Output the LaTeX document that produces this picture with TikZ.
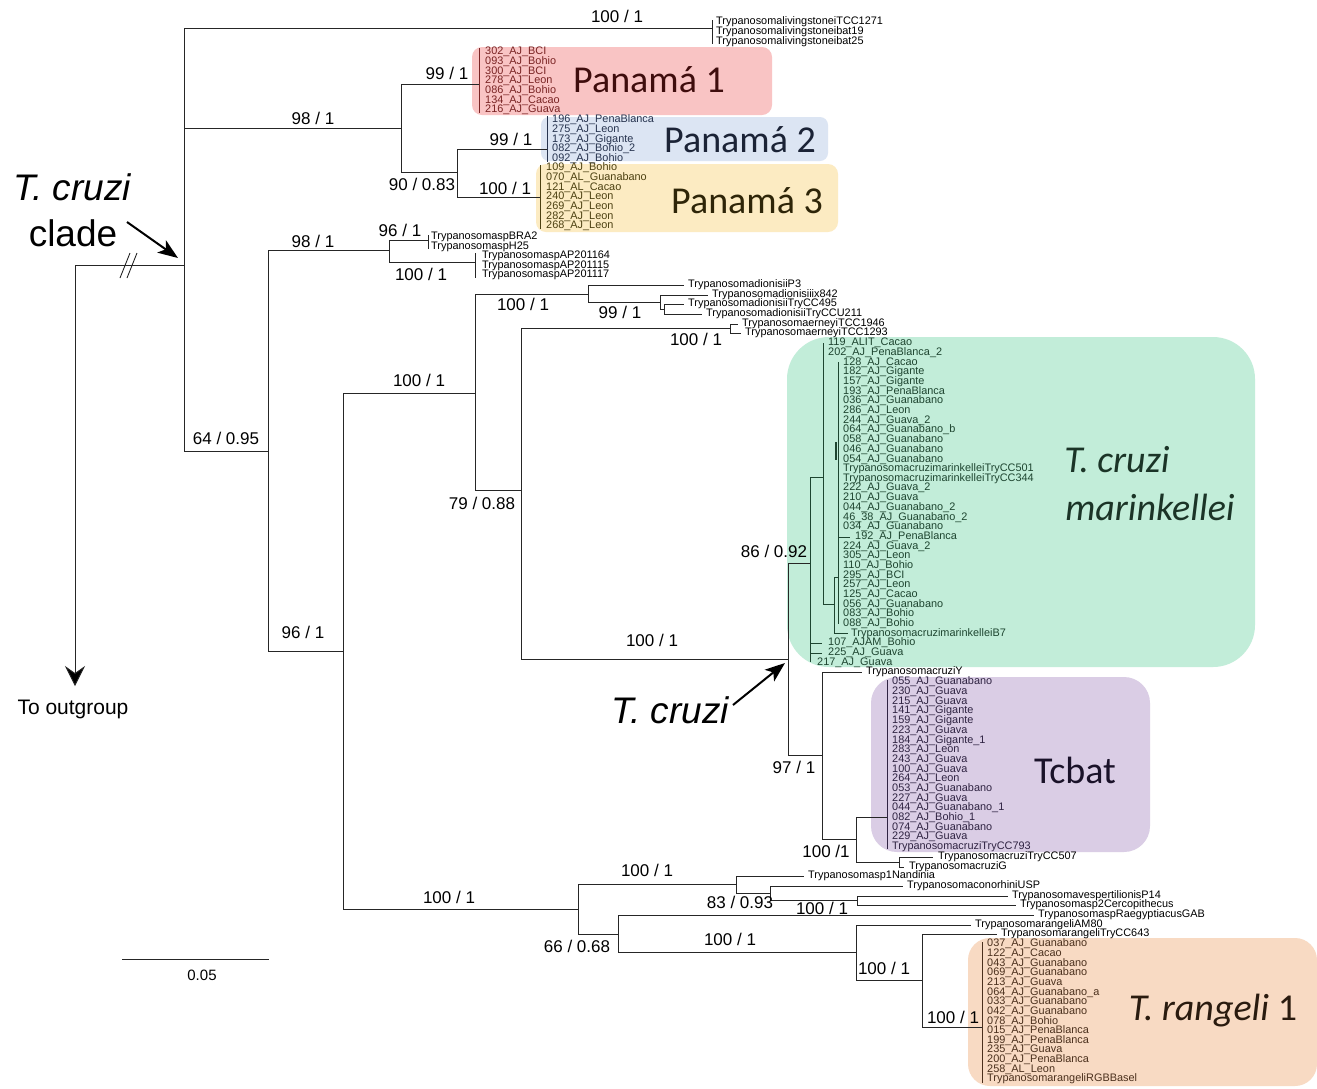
\documentclass[tikz,border=0pt]{standalone}
\usepackage{fontspec}
\setmainfont{Liberation Sans}
\newfontfamily\arialf{Liberation Sans}
\newfontfamily\calib{Carlito}
\usetikzlibrary{arrows.meta}
\definecolor{p1fill}{HTML}{F9C4C4}\definecolor{p1tip}{HTML}{7A2424}\definecolor{p1txt}{HTML}{3F0D0D}
\definecolor{p2fill}{HTML}{DCE5F3}\definecolor{p2tip}{HTML}{27344F}\definecolor{p2txt}{HTML}{1B2336}
\definecolor{p3fill}{HTML}{FCEBC2}\definecolor{p3tip}{HTML}{4D4112}\definecolor{p3txt}{HTML}{2E2508}
\definecolor{gfill}{HTML}{C2EDD9}\definecolor{gtip}{HTML}{1E4530}\definecolor{gtxt}{HTML}{1B3427}
\definecolor{cfill}{HTML}{DACDE5}\definecolor{ctip}{HTML}{2F2342}\definecolor{ctxt}{HTML}{1A1229}
\definecolor{rfill}{HTML}{F8DAC3}\definecolor{rtip}{HTML}{4B301D}\definecolor{rtxt}{HTML}{2A1B0F}
\newcommand\tipfont{\arialf\fontsize{10.9}{10.9}\selectfont}
\newcommand\supfont{\arialf\fontsize{17}{17}\selectfont}
\newcommand\grpfont{\calib\fontsize{38}{38}\selectfont}
\newcommand\annfont{\arialf\fontsize{37}{37}\selectfont}
\tikzset{
  br/.style={line width=0.9pt, draw=black!85},
  gbr/.style={line width=0.9pt, draw=gtip},
  cbr/.style={line width=0.9pt, draw=ctip},
  tip/.style={font=\tipfont, anchor=west, inner sep=0pt},
  supp/.style={font=\supfont, inner sep=0pt},
  grp/.style={font=\grpfont, inner sep=0pt},
  ann/.style={font=\annfont\itshape, inner sep=0pt},
  bigarrow/.style={line width=2pt, -{Stealth[length=20pt,width=15pt,inset=5pt]}},
}
\begin{document}
\begin{tikzpicture}[x=1pt,y=-1pt]
\useasboundingbox (0,0) rectangle (1317,1088);
\fill[white] (0,0) rectangle (1317,1088);
% ---------- coloured boxes ----------
\fill[p1fill, rounded corners=10] (472,47) rectangle (772,115);
\fill[p2fill, rounded corners=8] (541,117) rectangle (828,161);
\fill[p3fill, rounded corners=10] (536,164) rectangle (838,232);
\fill[gfill, rounded corners=42] (787,337) rectangle (1255,667);
\fill[cfill, rounded corners=26] (871,677) rectangle (1150,852);
\fill[rfill, rounded corners=22] (968,938) rectangle (1317,1086);
% ---------- node coordinates ----------
\coordinate (out) at (75,265);
\coordinate (outend) at (75,686);
\coordinate (r) at (184,265);
\coordinate (liv) at (712,28);
\coordinate (n401) at (401,128);
\coordinate (p1) at (479,84);
\coordinate (n457) at (457,172);
\coordinate (p2) at (547,149);
\coordinate (p3) at (540,197);
\coordinate (n268) at (268,451);
\coordinate (n389) at (389,250);
\coordinate (bra) at (428,240);
\coordinate (ap) at (475,262);
\coordinate (n343) at (343,651);
\coordinate (n475) at (475,393);
\coordinate (n588) at (588,294);
\coordinate (dP3) at (684,285);
\coordinate (n660) at (660,302);
\coordinate (dix) at (708,295);
\coordinate (n664) at (664,309);
\coordinate (d495) at (684,304);
\coordinate (d211) at (702,314);
\coordinate (n521) at (521,490);
\coordinate (n730) at (730,328);
\coordinate (e46) at (738,324);
\coordinate (e93) at (741,333);
\coordinate (n788) at (788,659);
\coordinate (n810) at (810,563);
\coordinate (n823) at (823,477);
\coordinate (t119) at (823,343);
\coordinate (nA) at (834,604);
\coordinate (nB) at (838,577);
\coordinate (nBtop) at (838,362);
\coordinate (nBbot) at (838,624);
\coordinate (nCtop) at (836,442);
\coordinate (nCbot) at (836,460);
\coordinate (t192) at (850,537);
\coordinate (tB7) at (848,633);
\coordinate (t107) at (822,643);
\coordinate (t225) at (822,653);
\coordinate (t217) at (810,662);
\coordinate (n822) at (822,755);
\coordinate (tY) at (862,672);
\coordinate (n856) at (856,839);
\coordinate (tcb) at (887,817);
\coordinate (n899) at (899,862);
\coordinate (t507) at (933,857);
\coordinate (tG) at (904,867);
\coordinate (n578) at (578,909);
\coordinate (n736) at (736,884);
\coordinate (tNa) at (804,876);
\coordinate (n770) at (770,893);
\coordinate (tCo) at (903,886);
\coordinate (n857) at (857,900);
\coordinate (tVe) at (1008,896);
\coordinate (tS2) at (1016,905);
\coordinate (n618) at (618,934);
\coordinate (tGAB) at (1034,915);
\coordinate (nR) at (856,952);
\coordinate (tAM) at (971,925);
\coordinate (n922) at (922,980);
\coordinate (t643) at (997,934);
\coordinate (rg) at (982,1027);
% bar ends of collapsed groups
\coordinate (livA) at (712,20);  \coordinate (livB) at (712,44);
\coordinate (p1A) at (479,48);   \coordinate (p1B) at (479,113);
\coordinate (p2A) at (547,116);  \coordinate (p2B) at (547,162);
\coordinate (p3A) at (540,165);  \coordinate (p3B) at (540,229);
\coordinate (braA) at (428,235); \coordinate (braB) at (428,249);
\coordinate (apA) at (475,253);  \coordinate (apB) at (475,278);
\coordinate (tcbA) at (887,680); \coordinate (tcbB) at (887,849);
\coordinate (rgA) at (982,942);  \coordinate (rgB) at (982,1083);
% ---------- branches ----------
\draw[br] (out) -- (r);
\draw[br] (r) |- (liv);
\draw[br] (r) |- (n401);
\draw[br] (r) |- (n268);
\draw[br] (n401) |- (p1);
\draw[br] (n401) |- (n457);
\draw[br] (n457) |- (p2);
\draw[br] (n457) |- (p3);
\draw[br] (n268) |- (n389);
\draw[br] (n268) |- (n343);
\draw[br] (n389) |- (bra);
\draw[br] (n389) |- (ap);
\draw[br] (n343) |- (n475);
\draw[br] (n343) |- (n578);
\draw[br] (n475) |- (n588);
\draw[br] (n475) |- (n521);
\draw[br] (n588) |- (dP3);
\draw[br] (n588) |- (n660);
\draw[br] (n660) |- (dix);
\draw[br] (n660) |- (n664);
\draw[br] (n664) |- (d495);
\draw[br] (n664) |- (d211);
\draw[br] (n521) |- (n730);
\draw[br] (n521) |- (n788);
\draw[br] (n730) |- (e46);
\draw[br] (n730) |- (e93);
\draw[br] (n788) |- (n810);
\draw[br] (n788) |- (n822);
\draw[gbr] (n810) |- (n823);
\draw[gbr] (n810) |- (t107);
\draw[gbr] (n810) |- (t225);
\draw[gbr] (n810) |- (t217);
\draw[gbr] (n823) |- (t119);
\draw[gbr] (n823) |- (nA);
\draw[gbr] (nA) |- (nB);
\draw[gbr] (nA) |- (tB7);
\draw[gbr] (nBtop) -- (nBbot);
\draw[gbr] (nB) |- (t192);
\draw[gbr, line width=1.8pt] (nCtop) -- (nCbot);
\draw[br] (n822) |- (tY);
\draw[br] (n822) |- (n856);
\draw[br] (n856) |- (tcb);
\draw[br] (n856) |- (n899);
\draw[br] (n899) |- (t507);
\draw[br] (n899) |- (tG);
\draw[br] (n578) |- (n736);
\draw[br] (n578) |- (n618);
\draw[br] (n736) |- (tNa);
\draw[br] (n736) |- (n770);
\draw[br] (n770) |- (tCo);
\draw[br] (n770) |- (n857);
\draw[br] (n857) |- (tVe);
\draw[br] (n857) |- (tS2);
\draw[br] (n618) |- (tGAB);
\draw[br] (n618) |- (nR);
\draw[br] (nR) |- (tAM);
\draw[br] (nR) |- (n922);
\draw[br] (n922) |- (t643);
\draw[br] (n922) |- (rg);
% collapsed bars
\draw[br] (livA) -- (livB);
\draw[br, draw=p1tip] (p1A) -- (p1B);
\draw[br, draw=p2tip] (p2A) -- (p2B);
\draw[br, draw=p3tip] (p3A) -- (p3B);
\draw[br] (braA) -- (braB);
\draw[br] (apA) -- (apB);
\draw[cbr] (tcbA) -- (tcbB);
\draw[br, draw=rtip] (rgA) -- (rgB);
% outgroup
\draw[br, -{Stealth[length=20pt,width=20pt,inset=7pt,fill=black]}] (out) -- (outend);
\draw[br] (120,278) -- (130,253);
\draw[br] (127,278) -- (137,253);
% ---------- tip labels ----------
\node[tip] (lv1) at (716,22) {TrypanosomalivingstoneiTCC1271};
\node[tip] (lv2) at (716,32) {Trypanosomalivingstoneibat19};
\node[tip] (lv3) at (716,42) {Trypanosomalivingstoneibat25};
\foreach \t [count=\i from 0] in {302\_AJ\_BCI,093\_AJ\_Bohio,300\_AJ\_BCI,278\_AJ\_Leon,086\_AJ\_Bohio,134\_AJ\_Cacao,216\_AJ\_Guava}
  {\node[tip, text=p1tip] (pa\i) at (485,{52+9.67*\i}) {\t};}
\foreach \t [count=\i from 0] in {196\_AJ\_PenaBlanca,275\_AJ\_Leon,173\_AJ\_Gigante,082\_AJ\_Bohio\_2,092\_AJ\_Bohio}
  {\node[tip, text=p2tip] (pb\i) at (552,{120+9.7*\i}) {\t};}
\foreach \t [count=\i from 0] in {109\_AJ\_Bohio,070\_AL\_Guanabano,121\_AL\_Cacao,240\_AJ\_Leon,269\_AJ\_Leon,282\_AJ\_Leon,268\_AJ\_Leon}
  {\node[tip, text=p3tip] (pc\i) at (546,{168+9.67*\i}) {\t};}
\node[tip] (lb1) at (431,237) {TrypanosomaspBRA2};
\node[tip] (lb2) at (431,247) {TrypanosomaspH25};
\node[tip] (la1) at (482,256) {TrypanosomaspAP201164};
\node[tip] (la2) at (482,265.5) {TrypanosomaspAP201115};
\node[tip] (la3) at (482,275) {TrypanosomaspAP201117};
\node[tip] (ld1) at ([xshift=4]dP3) {TrypanosomadionisiiP3};
\node[tip] (ld2) at ([xshift=4]dix) {Trypanosomadionisiiix842};
\node[tip] (ld3) at ([xshift=4]d495) {TrypanosomadionisiiTryCC495};
\node[tip] (ld4) at ([xshift=4]d211) {TrypanosomadionisiiTryCCU211};
\node[tip] (le1) at ([xshift=4]e46) {TrypanosomaerneyiTCC1946};
\node[tip] (le2) at ([xshift=4]e93) {TrypanosomaerneyiTCC1293};
% green clade
\foreach \t [count=\i from 0] in {119\_ALIT\_Cacao,202\_AJ\_PenaBlanca\_2}
  {\node[tip, text=gtip] (ga\i) at (828,{343+9.68*\i}) {\t};}
\foreach \t [count=\i from 2] in {128\_AJ\_Cacao,182\_AJ\_Gigante,157\_AJ\_Gigante,193\_AJ\_PenaBlanca,036\_AJ\_Guanabano,286\_AJ\_Leon,244\_AJ\_Guava\_2,064\_AJ\_Guanabano\_b,058\_AJ\_Guanabano,046\_AJ\_Guanabano,054\_AJ\_Guanabano,TrypanosomacruzimarinkelleiTryCC501,TrypanosomacruzimarinkelleiTryCC344,222\_AJ\_Guava\_2,210\_AJ\_Guava,044\_AJ\_Guanabano\_2,46\_38\_AJ\_Guanabano\_2,034\_AJ\_Guanabano}
  {\node[tip, text=gtip] (gb\i) at (843,{343+9.68*\i}) {\t};}
\node[tip, text=gtip] (g192) at (855,{343+9.68*20}) {192\_AJ\_PenaBlanca};
\foreach \t [count=\i from 21] in {224\_AJ\_Guava\_2,305\_AJ\_Leon,110\_AJ\_Bohio,295\_AJ\_BCI,257\_AJ\_Leon,125\_AJ\_Cacao,056\_AJ\_Guanabano,083\_AJ\_Bohio,088\_AJ\_Bohio}
  {\node[tip, text=gtip] (gc\i) at (843,{343+9.68*\i}) {\t};}
\node[tip, text=gtip] (gB7) at (851,{343+9.68*30}) {TrypanosomacruzimarinkelleiB7};
\node[tip, text=gtip] (g107) at (828,{343+9.68*31}) {107\_AJAM\_Bohio};
\node[tip, text=gtip] (g225) at (828,{343+9.68*32}) {225\_AJ\_Guava};
\node[tip, text=gtip] (g217) at (817,{343+9.68*33}) {217\_AJ\_Guava};
% Tcbat
\node[tip] (lY) at ([xshift=4]tY) {TrypanosomacruziY};
\foreach \t [count=\i from 0] in {055\_AJ\_Guanabano,230\_AJ\_Guava,215\_AJ\_Guava,141\_AJ\_Gigante,159\_AJ\_Gigante,223\_AJ\_Guava,184\_AJ\_Gigante\_1,283\_AJ\_Leon,243\_AJ\_Guava,100\_AJ\_Guava,264\_AJ\_Leon,053\_AJ\_Guanabano,227\_AJ\_Guava,044\_AJ\_Guanabano\_1,082\_AJ\_Bohio\_1,074\_AJ\_Guanabano,229\_AJ\_Guava,TrypanosomacruziTryCC793}
  {\node[tip, text=ctip] (ca\i) at (892,{682+9.7*\i}) {\t};}
\node[tip] (l507) at ([xshift=5]t507) {TrypanosomacruziTryCC507};
\node[tip] (lG) at ([xshift=5]tG) {TrypanosomacruziG};
% bottom clade
\node[tip] (lNa) at ([xshift=4]tNa) {Trypanosomasp1Nandinia};
\node[tip] (lCo) at ([xshift=4]tCo) {TrypanosomaconorhiniUSP};
\node[tip] (lVe) at ([xshift=4]tVe) {TrypanosomavespertilionisP14};
\node[tip] (lS2) at ([xshift=4]tS2) {Trypanosomasp2Cercopithecus};
\node[tip] (lGAB) at ([xshift=4]tGAB) {TrypanosomaspRaegyptiacusGAB};
\node[tip] (lAM) at ([xshift=4]tAM) {TrypanosomarangeliAM80};
\node[tip] (l643) at ([xshift=4]t643) {TrypanosomarangeliTryCC643};
\foreach \t [count=\i from 0] in {037\_AJ\_Guanabano,122\_AJ\_Cacao,043\_AJ\_Guanabano,069\_AJ\_Guanabano,213\_AJ\_Guava,064\_AJ\_Guanabano\_a,033\_AJ\_Guanabano,042\_AJ\_Guanabano,078\_AJ\_Bohio,015\_AJ\_PenaBlanca,199\_AJ\_PenaBlanca,235\_AJ\_Guava,200\_AJ\_PenaBlanca,258\_AL\_Leon,TrypanosomarangeliRGBBasel}
  {\node[tip, text=rtip] (ra\i) at (987,{944+9.64*\i}) {\t};}
% ---------- support values ----------
\node[supp] (s01) at (617,16) {100 / 1};
\node[supp] (s02) at (313,118) {98 / 1};
\node[supp] (s03) at (447,73) {99 / 1};
\node[supp] (s04) at (511,139) {99 / 1};
\node[supp] (s05) at (422,184) {90 / 0.83};
\node[supp] (s06) at (505,188) {100 / 1};
\node[supp] (s07) at (313,241) {98 / 1};
\node[supp] (s08) at (400,230) {96 / 1};
\node[supp] (s09) at (421,274) {100 / 1};
\node[supp] (s10) at (226,438) {64 / 0.95};
\node[supp] (s11) at (303,632) {96 / 1};
\node[supp] (s12) at (419,380) {100 / 1};
\node[supp] (s13) at (523,304) {100 / 1};
\node[supp] (s14) at (620,312) {99 / 1};
\node[supp] (s15) at (696,339) {100 / 1};
\node[supp] (s16) at (482,503) {79 / 0.88};
\node[supp] (s17) at (652,640) {100 / 1};
\node[supp] (s18) at (774,551) {86 / 0.92};
\node[supp] (s19) at (794,767) {97 / 1};
\node[supp] (s20) at (826,851) {100 /1};
\node[supp] (s21) at (449,897) {100 / 1};
\node[supp] (s22) at (647,870) {100 / 1};
\node[supp] (s23) at (740,902) {83 / 0.93};
\node[supp] (s24) at (822,908) {100 / 1};
\node[supp] (s25) at (577,946) {66 / 0.68};
\node[supp] (s26) at (730,939) {100 / 1};
\node[supp] (s27) at (884,968) {100 / 1};
\node[supp] (s28) at (953,1017) {100 / 1};
% ---------- group names ----------
\node[grp, text=p1txt] (gP1) at (649,80) {Panamá 1};
\node[grp, text=p2txt] (gP2) at (740,140) {Panamá 2};
\node[grp, text=p3txt] (gP3) at (747,201) {Panamá 3};
\node[grp, text=gtxt, font=\grpfont\itshape] (gM1) at (1117,460) {T. cruzi};
\node[grp, text=gtxt, font=\grpfont\itshape] (gM2) at (1150,507) {marinkellei};
\node[grp, text=ctxt] (gC) at (1075,770) {Tcbat};
\node[grp, text=rtxt] (gR) at (1213,1011) {\textit{T. rangeli} 1};
% ---------- annotations ----------
\node[ann] (tc1) at (72,187) {T. cruzi};
\node[font=\annfont, inner sep=0pt] (tc2) at (73,233) {clade};
\coordinate (clA) at (127,222);
\coordinate (clB) at (178,258);
\draw[bigarrow] (clA) -- (clB);
\node[ann] (tc3) at (670,710) {T. cruzi};
\coordinate (tcA) at (733,705);
\coordinate (tcB) at (785,663);
\draw[bigarrow] (tcA) -- (tcB);
\node[font=\arialf\fontsize{21}{21}\selectfont, inner sep=0pt] (og) at (73,709) {To outgroup};
% scale bar
\coordinate (sbA) at (122,959);
\coordinate (sbB) at (269,959);
\draw[br] (sbA) -- (sbB);
\node[font=\arialf\fontsize{15}{15}\selectfont, inner sep=0pt] (sbl) at (202,975) {0.05};
\end{tikzpicture}
\end{document}
